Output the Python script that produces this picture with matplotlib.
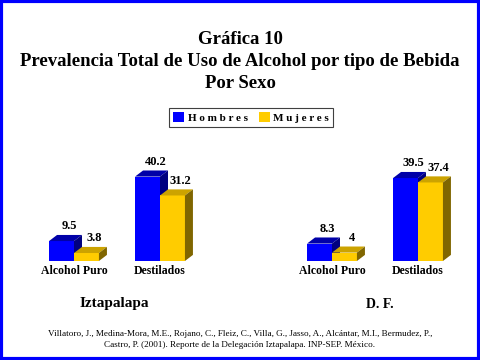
import matplotlib
matplotlib.use('Agg')
import matplotlib.pyplot as plt
from matplotlib.patches import Polygon, Patch, Rectangle

# --- data ---
categories = ["Alcohol Puro", "Destilados"]
regions = ["Iztapalapa", "D. F."]
series = ["Hombres", "Mujeres"]
hombres_izt = [9.5, 40.2]
mujeres_izt = [3.8, 31.2]
hombres_df = [8.3, 39.5]
mujeres_df = [4, 37.4]
cite_1 = ("Villatoro, J., Medina-Mora, M.E., Rojano, C., Fleiz, C., Villa, G., Jasso, A., "
          "Alcántar, M.I., Bermudez, P.,")
cite_2 = "Castro, P. (2001). Reporte de la Delegación Iztapalapa. INP-SEP. México."

# --- style ---
SERIF = ['Liberation Serif', 'DejaVu Serif']
plt.rcParams['font.family'] = SERIF
face = {"Hombres": ("#0000FF", "#0000A8", "#000080"),
        "Mujeres": ("#FFCC00", "#CCA300", "#806600")}
W = 0.29          # bar width in category units
DX, DY = 0.093, 2.9   # 3D depth offset

fig = plt.figure(figsize=(4.8, 3.6), dpi=100)
ax = fig.add_axes([0, 99 / 360, 1, 105 / 360])
ax.set_xlim(-74 / 86, 406 / 86)
ax.set_ylim(0, 50)
ax.axis('off')


def bar3d(x, h, name):
    front, top, side = face[name]
    ax.bar(x, h, W, align='edge', color=front, edgecolor='none', zorder=2)
    ax.add_patch(Polygon([(x, h), (x + W, h), (x + W + DX, h + DY), (x + DX, h + DY)],
                         closed=True, facecolor=top, edgecolor='none', zorder=2))
    ax.add_patch(Polygon([(x + W, 0), (x + W + DX, DY), (x + W + DX, h + DY), (x + W, h)],
                         closed=True, facecolor=side, edgecolor='none', zorder=2))
    ax.text(x + W / 2 + DX, h + DY + 1.2, f"{h:g}", ha='center', va='bottom',
            fontsize=9, fontweight='bold', color='black')


panels = [(0, hombres_izt, mujeres_izt), (3, hombres_df, mujeres_df)]
for start, hom, muj in panels:
    for i, cat in enumerate(categories):
        xc = start + i
        bar3d(xc - W, hom[i], "Hombres")
        bar3d(xc, muj[i], "Mujeres")
        ax.text(xc, -5, cat, ha='center', va='center', fontsize=8.5,
                fontweight='bold')

# region names
fig.text(114 / 480, 1 - 304 / 360, regions[0], ha='center', va='center',
         fontsize=11, fontweight='bold')
fig.text(380 / 480, 1 - 304 / 360, regions[1], ha='center', va='center',
         fontsize=10, fontweight='bold')

# titles
fig.text(0.5, 1 - 40 / 360, "Gráfica 10", ha='center', va='center',
         fontsize=13.5, fontweight='bold')
fig.text(0.5, 1 - 62 / 360, "Prevalencia Total de Uso de Alcohol por tipo de Bebida",
         ha='center', va='center', fontsize=13.5, fontweight='bold')
fig.text(0.5, 1 - 83 / 360, "Por Sexo", ha='center', va='center',
         fontsize=13.5, fontweight='bold')

# legend
handles = [Patch(facecolor=face[s][0], edgecolor='none') for s in series]
leg = fig.legend(handles, ["H o m b r e s", "M u j e r e s"], loc='center',
                 bbox_to_anchor=(251 / 480, 1 - 117.5 / 360), ncol=2,
                 fancybox=False, edgecolor='#404040', framealpha=1,
                 handlelength=1.0, handleheight=1.0, handletextpad=0.3,
                 columnspacing=1.0, borderpad=0.35,
                 prop={'family': SERIF, 'weight': 'bold', 'size': 8})
leg.get_frame().set_linewidth(0.8)

# citation
fig.text(0.5, 1 - 334 / 360, cite_1, ha='center', va='center', fontsize=6.6)
fig.text(0.5, 1 - 345 / 360, cite_2, ha='center', va='center', fontsize=6.6)

# blue border
fig.patches.append(Rectangle((0.003, 0.004), 0.994, 0.992, transform=fig.transFigure,
                             fill=False, edgecolor='#0000FF', linewidth=3.0))

fig.savefig('out.png', dpi=100)
